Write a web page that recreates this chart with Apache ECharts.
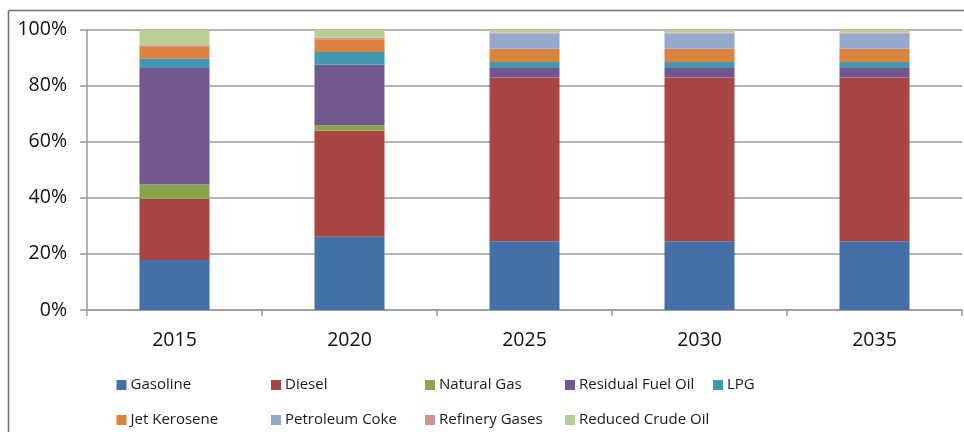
<!DOCTYPE html>
<html>
<head>
<meta charset="utf-8">
<script src="https://cdn.jsdelivr.net/npm/echarts@6/dist/echarts.min.js"></script>
<style>
html,body{margin:0;padding:0;background:#fff;}
#chart{width:964px;height:432px;}
</style>
</head>
<body>
<div id="chart"></div>
<script>
const categories = ['2015', '2020', '2025', '2030', '2035'];
const gasoline = [17.8, 26.1, 24.5, 24.5, 24.5];
const diesel = [21.9, 37.8, 58.4, 58.4, 58.4];
const naturalGas = [5.1, 2.0, 0, 0, 0];
const residualFuelOil = [41.5, 21.5, 3.4, 3.4, 3.4];
const lpg = [3.3, 4.6, 2.1, 2.1, 2.1];
const jetKerosene = [4.2, 4.5, 4.7, 4.7, 4.7];
const petroleumCoke = [0, 0, 5.5, 5.5, 5.5];
const refineryGases = [0.6, 0.6, 0.3, 0.3, 0.3];
const reducedCrudeOil = [5.6, 2.9, 1.1, 1.1, 1.1];
const yTicks = [0, 20, 40, 60, 80, 100];

const seriesDefs = [
  ['Gasoline', gasoline, '#4271A8'],
  ['Diesel', diesel, '#A94543'],
  ['Natural Gas', naturalGas, '#88A44D'],
  ['Residual Fuel Oil', residualFuelOil, '#71588F'],
  ['LPG', lpg, '#4198AF'],
  ['Jet Kerosene', jetKerosene, '#DB843D'],
  ['Petroleum Coke', petroleumCoke, '#93A9CF'],
  ['Refinery Gases', refineryGases, '#D19392'],
  ['Reduced Crude Oil', reducedCrudeOil, '#B9CD96']
];

// legend positions (layout only)
const legendPos = [
  [116.5, 375], [271, 375], [425, 375], [565, 375], [713, 375],
  [116.5, 410], [271, 410], [425, 410], [565, 410]
];

const FONT = '"Open Sans", "Liberation Sans", sans-serif';

const chart = echarts.init(document.getElementById('chart'), null, {renderer: 'canvas'});
const option = {
  animation: false,
  backgroundColor: '#fff',
  grid: {left: 87, right: 2, top: 29.5, bottom: 122, containLabel: false},
  legend: seriesDefs.map((d, i) => ({
    data: [d[0]],
    left: legendPos[i][0],
    top: legendPos[i][1],
    padding: 0,
    itemWidth: 10,
    itemHeight: 10,
    itemGap: 0,
    icon: 'rect',
    selectedMode: false,
    textStyle: {fontFamily: FONT, fontSize: 15, color: '#1a1a1a', lineHeight: 20, padding: [0, 0, 0, -1]}
  })),
  xAxis: {
    type: 'category',
    data: categories,
    boundaryGap: true,
    axisLine: {show: true, lineStyle: {color: '#999', width: 1.5}},
    axisTick: {show: true, alignWithLabel: false, length: 6, lineStyle: {color: '#999', width: 1.5}},
    axisLabel: {fontFamily: FONT, fontSize: 19.5, color: '#111', margin: 20}
  },
  yAxis: {
    type: 'value',
    min: yTicks[0],
    max: yTicks[yTicks.length - 1],
    interval: yTicks[1] - yTicks[0],
    axisLine: {show: true, lineStyle: {color: '#999', width: 1.5}},
    axisTick: {show: true, length: 7, lineStyle: {color: '#999', width: 1.5}},
    splitLine: {show: true, lineStyle: {color: '#9c9c9c', width: 1.5}},
    axisLabel: {fontFamily: FONT, fontSize: 19.5, color: '#111', margin: 20, formatter: '{value}%'}
  },
  series: seriesDefs.map(d => ({
    name: d[0],
    type: 'bar',
    stack: 'total',
    data: d[1],
    barWidth: '40%',
    itemStyle: {color: d[2]},
    emphasis: {disabled: true}
  })),
  graphic: [
    {type: 'line', shape: {x1: 8.5, y1: 10.5, x2: 964, y2: 10.5}, style: {stroke: '#6e6e6e', lineWidth: 1.5}, silent: true},
    {type: 'line', shape: {x1: 8.5, y1: 10.5, x2: 8.5, y2: 432}, style: {stroke: '#6e6e6e', lineWidth: 1.5}, silent: true}
  ]
};
chart.setOption(option);
</script>
</body>
</html>
